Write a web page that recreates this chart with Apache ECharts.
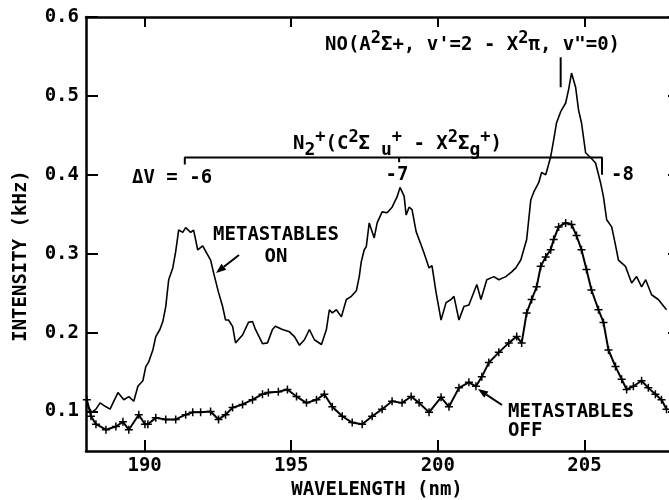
<!DOCTYPE html>
<html>
<head>
<meta charset="utf-8">
<script src="https://cdn.jsdelivr.net/npm/echarts@6/dist/echarts.min.js"></script>
<style>
  html, body { margin: 0; padding: 0; background: #fff; }
  #chart { width: 669px; height: 500px; }
</style>
</head>
<body>
<div id="chart"></div>
<script>
// Emission spectrum, metastables on / off
const onWavelength = [188.03,188.20,188.34,188.48,188.68,188.82,189.09,189.29,189.46,189.63,189.77,189.94,190.04,190.14,190.28,190.38,190.52,190.62,190.72,190.82,190.96,191.06,191.16,191.30,191.40,191.57,191.67,191.81,191.98,192.25,192.35,192.52,192.66,192.76,192.86,193.00,193.10,193.34,193.54,193.68,193.78,194.02,194.19,194.36,194.46,194.70,194.94,195.11,195.28,195.45,195.62,195.79,196.03,196.20,196.30,196.40,196.54,196.71,196.88,197.05,197.22,197.32,197.39,197.49,197.56,197.66,197.83,197.93,198.10,198.27,198.44,198.61,198.71,198.85,198.92,199.02,199.12,199.26,199.43,199.53,199.70,199.80,199.94,200.11,200.28,200.45,200.55,200.72,200.89,201.06,201.33,201.47,201.67,201.91,202.08,202.32,202.52,202.66,202.83,203.03,203.17,203.27,203.44,203.54,203.68,203.85,203.95,204.05,204.19,204.36,204.46,204.56,204.70,204.80,204.90,205.04,205.21,205.38,205.55,205.65,205.76,205.93,206.06,206.16,206.40,206.61,206.78,206.95,207.09,207.29,207.52,207.80];
const onIntensity = [0.109,0.099,0.103,0.111,0.106,0.103,0.124,0.115,0.119,0.113,0.132,0.139,0.157,0.163,0.178,0.195,0.204,0.214,0.233,0.267,0.282,0.303,0.330,0.327,0.333,0.327,0.330,0.305,0.310,0.292,0.276,0.251,0.233,0.216,0.216,0.208,0.187,0.197,0.213,0.214,0.204,0.186,0.187,0.204,0.208,0.204,0.201,0.195,0.184,0.191,0.204,0.191,0.185,0.204,0.229,0.225,0.229,0.220,0.242,0.246,0.253,0.271,0.290,0.305,0.309,0.339,0.320,0.339,0.353,0.352,0.359,0.372,0.384,0.373,0.349,0.359,0.356,0.328,0.311,0.301,0.282,0.285,0.251,0.216,0.238,0.242,0.246,0.216,0.233,0.235,0.261,0.242,0.267,0.271,0.267,0.271,0.277,0.282,0.292,0.318,0.368,0.378,0.390,0.403,0.400,0.423,0.444,0.466,0.480,0.491,0.508,0.529,0.511,0.482,0.466,0.428,0.422,0.415,0.390,0.372,0.343,0.334,0.311,0.292,0.284,0.263,0.271,0.258,0.267,0.248,0.242,0.229];

const offWavelength = [188.03,188.17,188.34,188.68,189.02,189.26,189.46,189.80,190.01,190.11,190.38,190.72,191.06,191.40,191.64,191.91,192.25,192.52,192.76,193.00,193.34,193.68,194.02,194.22,194.56,194.87,195.18,195.52,195.86,196.13,196.40,196.74,197.08,197.42,197.76,198.10,198.44,198.78,199.09,199.36,199.70,200.11,200.38,200.72,201.06,201.30,201.50,201.74,202.08,202.42,202.69,202.86,203.03,203.20,203.37,203.51,203.68,203.85,203.95,204.12,204.36,204.56,204.73,204.90,205.07,205.24,205.48,205.65,205.82,206.06,206.27,206.44,206.67,206.95,207.18,207.42,207.63,207.80];
const offIntensity = [0.115,0.094,0.084,0.077,0.081,0.087,0.077,0.096,0.084,0.084,0.092,0.090,0.090,0.096,0.099,0.099,0.100,0.090,0.096,0.105,0.109,0.115,0.122,0.124,0.125,0.128,0.119,0.111,0.115,0.122,0.106,0.094,0.086,0.084,0.094,0.103,0.113,0.111,0.119,0.111,0.099,0.118,0.106,0.130,0.137,0.132,0.144,0.162,0.175,0.187,0.195,0.187,0.225,0.242,0.258,0.284,0.296,0.305,0.318,0.334,0.339,0.337,0.323,0.305,0.280,0.254,0.229,0.213,0.178,0.157,0.141,0.128,0.132,0.139,0.130,0.122,0.115,0.103];

// Axis ticks
const xTicks = [190, 195, 200, 205];
const yTicks = [0.1, 0.2, 0.3, 0.4, 0.5, 0.6];

// N2+ (C-X) band progression bracket: Δv = -6, -7, -8 heads
const bandHeads = [191.37, 198.68, 205.60];
const bracketLevel = 0.422;
// NO (A-X) 2-0 band marker
const noBand = 204.19;
const noMarkTop = 0.549;
const noMarkBottom = 0.511;

const zip = (xs, ys) => xs.map((x, i) => [x, ys[i]]);

const FONT = '"DejaVu Sans Mono", monospace';
const INK = '#000';

const bracket = [
  [bandHeads[0], bracketLevel - 0.009],
  [bandHeads[0], bracketLevel],
  [bandHeads[1], bracketLevel],
  [bandHeads[1], bracketLevel - 0.006],
  [bandHeads[1], bracketLevel],
  [bandHeads[2], bracketLevel],
  [bandHeads[2], bracketLevel - 0.022]
];

function arrow(x1, y1, x2, y2) {
  const dx = x2 - x1, dy = y2 - y1, L = Math.hypot(dx, dy);
  const ux = dx / L, uy = dy / L, hl = 10, hw = 3.8;
  const bx = x2 - ux * hl, by = y2 - uy * hl;
  return [
    { type: 'line', shape: { x1: x1, y1: y1, x2: bx, y2: by }, style: { stroke: INK, lineWidth: 2 } },
    { type: 'polygon', shape: { points: [[x2, y2], [bx - uy * hw, by + ux * hw], [bx + uy * hw, by - ux * hw]] }, style: { fill: INK } }
  ];
}

// normal / superscript / subscript runs for band notation
const rich = {
  n: { fontFamily: FONT, fontWeight: 'bold', fontSize: 19, lineHeight: 30, color: INK },
  p: { fontFamily: FONT, fontWeight: 'bold', fontSize: 17, lineHeight: 25, verticalAlign: 'top', color: INK },
  b: { fontFamily: FONT, fontWeight: 'bold', fontSize: 18, lineHeight: 24, verticalAlign: 'bottom', color: INK }
};

const txt = (x, y, text, extra) => Object.assign({
  type: 'text', x: x, y: y,
  style: Object.assign({ text: text, fill: INK, font: 'bold 19px ' + FONT, align: 'left', verticalAlign: 'middle' }, extra || {})
});

const chart = echarts.init(document.getElementById('chart'), null, { renderer: 'canvas' });

const axisLine = { show: true, lineStyle: { color: INK, width: 2.5 } };

chart.setOption({
  animation: false,
  backgroundColor: '#fff',
  grid: { left: 86, right: -11, top: 17, bottom: 49, outerBoundsMode: 'none', containLabel: false },
  xAxis: [
    {
      type: 'value', position: 'bottom', min: 188, max: 208.26,
      axisLine: axisLine,
      axisTick: { show: true, inside: true, length: 11, customValues: xTicks, lineStyle: { color: INK, width: 2 } },
      axisLabel: { show: true, customValues: xTicks, margin: 6, color: INK, fontFamily: FONT, fontSize: 19, fontWeight: 'bold' },
      splitLine: { show: false }
    },
    {
      type: 'value', position: 'top', min: 188, max: 208.26,
      axisLine: axisLine,
      axisTick: { show: true, inside: true, length: 10, customValues: xTicks, lineStyle: { color: INK, width: 2 } },
      axisLabel: { show: false },
      splitLine: { show: false }
    }
  ],
  yAxis: [
    {
      type: 'value', position: 'left', min: 0.05, max: 0.6,
      axisLine: axisLine,
      axisTick: { show: true, inside: true, length: 12, customValues: yTicks, lineStyle: { color: INK, width: 2 } },
      axisLabel: { show: true, customValues: yTicks, margin: 7, color: INK, fontFamily: FONT, fontSize: 19, fontWeight: 'bold',
        formatter: v => v.toFixed(1) },
      splitLine: { show: false }
    },
    {
      type: 'value', position: 'right', min: 0.05, max: 0.6,
      axisLine: axisLine,
      axisTick: { show: true, inside: true, length: 12, customValues: yTicks, lineStyle: { color: INK, width: 2 } },
      axisLabel: { show: false },
      splitLine: { show: false }
    }
  ],
  series: [
    {
      name: 'METASTABLES ON', type: 'line', data: zip(onWavelength, onIntensity),
      showSymbol: false, symbol: 'none', smooth: false,
      lineStyle: { color: INK, width: 1.6 }, z: 3
    },
    {
      name: 'METASTABLES OFF', type: 'line', data: zip(offWavelength, offIntensity),
      symbol: 'path://M0,-1L0,1M-1,0L1,0', symbolSize: 8, showSymbol: true, showAllSymbol: true,
      itemStyle: { color: INK, borderColor: INK, borderWidth: 1.5 },
      lineStyle: { color: INK, width: 2 }, z: 3
    },
    {
      name: 'N2+ bracket', type: 'line', data: bracket, symbol: 'none',
      lineStyle: { color: INK, width: 2 }, z: 2
    },
    {
      name: 'NO marker', type: 'line', data: [[noBand, noMarkTop], [noBand, noMarkBottom]], symbol: 'none',
      lineStyle: { color: INK, width: 2 }, z: 2
    }
  ],
  graphic: [
    // axis titles
    txt(377, 490, 'WAVELENGTH (nm)', { align: 'center' }),
    { type: 'text', x: 21, y: 256, rotation: Math.PI / 2,
      style: { text: 'INTENSITY (kHz)', fill: INK, font: 'bold 19px ' + FONT, align: 'center', verticalAlign: 'middle' } },
    // band labels
    { type: 'text', x: 325, y: 45, style: { text: '{n|NO(A}{p|2}{n|Σ+, v\'=2 - X}{p|2}{n|π, v"=0)}', rich: rich, align: 'left', verticalAlign: 'middle' } },
    { type: 'text', x: 293, y: 144, style: { text: '{n|N}{b|2}{p|+}{n|(C}{p|2}{n|Σ}{b| u}{p|+}{n| - X}{p|2}{n|Σ}{b|g}{p|+}{n|)}', rich: rich, align: 'left', verticalAlign: 'middle' } },
    txt(132, 178, 'ΔV = -6'),
    txt(397, 175, '-7', { align: 'center' }),
    txt(611, 175, '-8'),
    // series labels
    txt(276, 246, 'METASTABLES\nON', { align: 'center', lineHeight: 22 }),
    txt(508, 422, 'METASTABLES\nOFF', { align: 'left', lineHeight: 19 })
  ].concat(arrow(239, 255, 216, 273), arrow(502, 405, 478, 389))
});
</script>
</body>
</html>
